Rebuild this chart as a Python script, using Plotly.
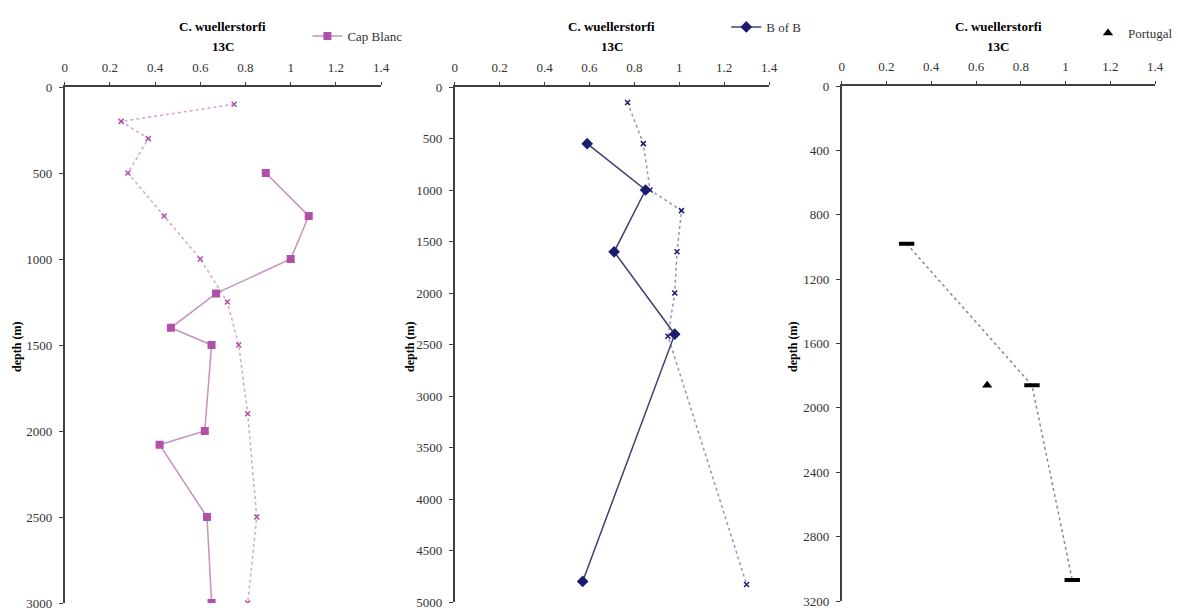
import plotly.graph_objects as go

# ---------------- data ----------------
# Panel 1 : Cap Blanc
capblanc_depth = [500, 750, 1000, 1200, 1400, 1500, 2000, 2080, 2500, 3000]
capblanc_13c = [0.89, 1.08, 1.00, 0.67, 0.47, 0.65, 0.62, 0.42, 0.63, 0.65]
capblanc_ref_depth = [100, 200, 300, 500, 750, 1000, 1250, 1500, 1900, 2500, 3000]
capblanc_ref_13c = [0.75, 0.25, 0.37, 0.28, 0.44, 0.60, 0.72, 0.77, 0.81, 0.85, 0.81]

# Panel 2 : B of B
bofb_depth = [550, 1000, 1600, 2400, 4800]
bofb_13c = [0.59, 0.85, 0.71, 0.98, 0.57]
bofb_ref_depth = [150, 550, 1000, 1200, 1600, 2000, 2420, 4830]
bofb_ref_13c = [0.77, 0.84, 0.87, 1.01, 0.99, 0.98, 0.95, 1.30]

# Panel 3 : Portugal
portugal_depth = [1860]
portugal_13c = [0.65]
portugal_ref_depth = [980, 1860, 3070]
portugal_ref_13c = [0.29, 0.85, 1.03]

title_line1 = "C. wuellerstorfi"
title_line2 = "13C"
ytitle = "depth (m)"
x_ticks = [0, 0.2, 0.4, 0.6, 0.8, 1, 1.2, 1.4]
x_ticktext = ["0", "0.2", "0.4", "0.6", "0.8", "1", "1.2", "1.4"]
y1_ticks = [0, 500, 1000, 1500, 2000, 2500, 3000]
y2_ticks = [0, 500, 1000, 1500, 2000, 2500, 3000, 3500, 4000, 4500, 5000]
y3_ticks = [0, 400, 800, 1200, 1600, 2000, 2400, 2800, 3200]

# ---------------- styling ----------------
W, H = 1178, 612
FONT = "Liberation Serif, Times New Roman, serif"
PINK = "#B050A8"
PINK_LINE = "#C690BF"
NAVY = "#1C1C6E"
NAVY_LINE = "#404070"

fig = go.Figure()

# panel 1
fig.add_trace(go.Scatter(x=capblanc_ref_13c, y=capblanc_ref_depth, mode="lines+markers",
                         line=dict(color="#D9A0D2", width=1.5, dash="dot"),
                         marker=dict(symbol="x-thin", size=5, color=PINK, line=dict(width=1.5, color=PINK)),
                         showlegend=False, xaxis="x", yaxis="y"))
fig.add_trace(go.Scatter(x=capblanc_13c, y=capblanc_depth, mode="lines+markers", name="Cap Blanc",
                         line=dict(color=PINK_LINE, width=1.5),
                         marker=dict(symbol="square", size=8, color=PINK),
                         legend="legend", xaxis="x", yaxis="y"))

# panel 2
fig.add_trace(go.Scatter(x=bofb_ref_13c, y=bofb_ref_depth, mode="lines+markers",
                         line=dict(color="#9494BE", width=1.5, dash="dot"),
                         marker=dict(symbol="x-thin", size=5, color=NAVY, line=dict(width=1.5, color=NAVY)),
                         showlegend=False, xaxis="x2", yaxis="y2"))
fig.add_trace(go.Scatter(x=bofb_13c, y=bofb_depth, mode="lines+markers", name="B of B",
                         line=dict(color=NAVY_LINE, width=1.5),
                         marker=dict(symbol="diamond", size=9, color=NAVY),
                         legend="legend2", xaxis="x2", yaxis="y2"))

# panel 3
fig.add_trace(go.Scatter(x=portugal_ref_13c, y=portugal_ref_depth, mode="lines+markers",
                         line=dict(color="#8A8A8A", width=1.5, dash="dot"),
                         marker=dict(symbol="line-ew", size=11, color="black", line=dict(width=4, color="black")),
                         showlegend=False, xaxis="x3", yaxis="y3"))
fig.add_trace(go.Scatter(x=portugal_13c, y=portugal_depth, mode="markers", name="Portugal",
                         marker=dict(symbol="triangle-up", size=9, color="black"),
                         legend="legend3", xaxis="x3", yaxis="y3"))

# panel pixel geometry -> paper fractions
panels = [
    dict(x0=65, x1=383, y0=87, y1=603),
    dict(x0=457, x1=773, y0=87, y1=602),
    dict(x0=846, x1=1161, y0=86, y1=601),
]
yticks = [y1_ticks, y2_ticks, y3_ticks]

axis_font = dict(family=FONT, size=13, color="#333333")
for i, p in enumerate(panels):
    sfx = "" if i == 0 else str(i + 1)
    xd = [p["x0"] / W, p["x1"] / W]
    yd = [1 - p["y1"] / H, 1 - p["y0"] / H]
    fig.layout["xaxis" + sfx] = dict(
        domain=xd, anchor="y" + sfx, side="top", range=[0, 1.4],
        tickvals=x_ticks, ticktext=x_ticktext, ticks="outside", ticklen=3, tickwidth=1,
        tickcolor="#404040", showline=True, linecolor="#404040", linewidth=1.5,
        showgrid=False, zeroline=False, tickfont=axis_font, ticklabelstandoff=5,
        ticklabeloverflow="allow", automargin=False, fixedrange=True)
    fig.layout["yaxis" + sfx] = dict(
        domain=yd, anchor="x" + sfx, range=[yticks[i][-1], 0],
        tickvals=yticks[i], ticks="outside", ticklen=4, tickwidth=1,
        tickcolor="#404040", showline=True, linecolor="#404040", linewidth=1.5,
        showgrid=False, zeroline=False, tickfont=axis_font, ticklabelstandoff=4,
        ticklabeloverflow="allow", automargin=False, fixedrange=True)

    cx = (p["x0"] + p["x1"]) / 2 / W
    fig.add_annotation(x=cx, y=1 - 27 / H, xref="paper", yref="paper", showarrow=False,
                       xanchor="center", yanchor="middle",
                       text="<b>" + title_line1 + "</b>", font=dict(family=FONT, size=13, color="black"))
    fig.add_annotation(x=cx, y=1 - 47 / H, xref="paper", yref="paper", showarrow=False,
                       xanchor="center", yanchor="middle",
                       text="<b>" + title_line2 + "</b>", font=dict(family=FONT, size=13, color="black"))

ytitle_x = [17, 412, 797]
for xx in ytitle_x:
    fig.add_annotation(x=xx / W, y=1 - 347 / H, xref="paper", yref="paper", showarrow=False,
                       xanchor="center", yanchor="middle",
                       text="<b>" + ytitle + "</b>", textangle=-90,
                       font=dict(family=FONT, size=12, color="black"))

leg_font = dict(family=FONT, size=13, color="#333333")
fig.update_layout(
    width=W, height=H,
    margin=dict(l=0, r=0, t=0, b=0),
    paper_bgcolor="white", plot_bgcolor="white",
    font=dict(family=FONT, size=13),
    legend=dict(x=309 / W, y=1 - 21 / H, xanchor="left", yanchor="top", font=leg_font,
                bgcolor="rgba(0,0,0,0)", itemwidth=30),
    legend2=dict(x=730 / W, y=1 - 12 / H, xanchor="left", yanchor="top", font=leg_font,
                 bgcolor="rgba(0,0,0,0)", itemwidth=30),
    legend3=dict(x=1094 / W, y=1 - 18 / H, xanchor="left", yanchor="top", font=leg_font,
                 bgcolor="rgba(0,0,0,0)", itemwidth=30),
)

fig.write_html("out.html", config={"displayModeBar": False},
               post_script="document.body.style.margin='0';")
